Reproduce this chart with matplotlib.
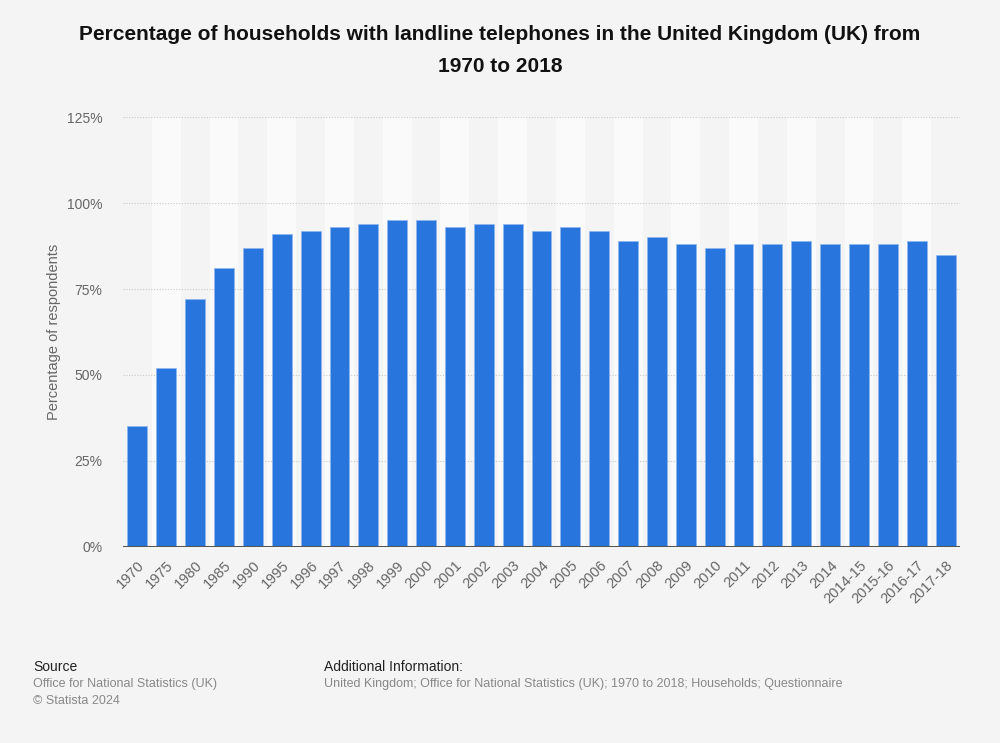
import matplotlib
matplotlib.use("Agg")
import matplotlib.pyplot as plt
from matplotlib.ticker import FuncFormatter

years = ["1970", "1975", "1980", "1985", "1990", "1995", "1996", "1997", "1998", "1999",
         "2000", "2001", "2002", "2003", "2004", "2005", "2006", "2007", "2008", "2009",
         "2010", "2011", "2012", "2013", "2014", "2014-15", "2015-16", "2016-17", "2017-18"]
values = [35, 52, 72, 81, 87, 91, 92, 93, 94, 95,
          95, 93, 94, 94, 92, 93, 92, 89, 90, 88,
          87, 88, 88, 89, 88, 88, 88, 89, 85]
yticks = [0, 25, 50, 75, 100, 125]

plt.rcParams['font.family'] = ['Liberation Sans', 'DejaVu Sans']

fig = plt.figure(figsize=(10, 7.43), dpi=100, facecolor="#f4f4f4")
ax = fig.add_axes([0.123, 0.2642, 0.837, 0.578])
ax.set_facecolor("#f4f4f4")

x = list(range(len(years)))
for i in x:
    if i % 2 == 1:
        ax.axvspan(i - 0.5, i + 0.5, color="#fafafa", zorder=0, lw=0)

for t in yticks[1:]:
    ax.axhline(t, color="#c8c8c8", lw=0.8, ls=(0, (1, 1.5)), zorder=1)

ax.bar(x, values, width=0.69, color="#2876dd", edgecolor="#8fb6ee", linewidth=0.5, zorder=3)
ax.axhline(0, color="#555555", lw=2.2, zorder=4)

ax.set_xlim(-0.5, len(years) - 0.5)
ax.set_ylim(0, 125)
ax.set_yticks(yticks)
ax.yaxis.set_major_formatter(FuncFormatter(lambda v, p: f"{int(v)}%"))
ax.set_xticks(x)
ax.set_xticklabels(years, rotation=45, ha="right", rotation_mode="anchor")
ax.tick_params(axis="both", length=0, labelsize=10.5, colors="#666666")
ax.tick_params(axis="x", pad=8)
ax.tick_params(axis="y", pad=15, labelsize=10)
for s in ax.spines.values():
    s.set_visible(False)

ax.set_ylabel("Percentage of respondents", fontsize=10.5, color="#666666", labelpad=4)

fig.text(0.5, 0.966, "Percentage of households with landline telephones in the United Kingdom (UK) from\n1970 to 2018",
         ha="center", va="top", fontsize=15, fontweight="bold", color="#111111", linespacing=1.85)

fig.text(0.033, 0.102, "Source", fontsize=10, color="#222222", va="center")
fig.text(0.033, 0.079, "Office for National Statistics (UK)", fontsize=9, color="#888888", va="center")
fig.text(0.033, 0.057, "© Statista 2024", fontsize=9, color="#888888", va="center")
fig.text(0.324, 0.102, "Additional Information:", fontsize=10, color="#222222", va="center")
fig.text(0.324, 0.079, "United Kingdom; Office for National Statistics (UK); 1970 to 2018; Households; Questionnaire",
         fontsize=9, color="#888888", va="center")

fig.savefig("out.png", dpi=100, facecolor=fig.get_facecolor())
